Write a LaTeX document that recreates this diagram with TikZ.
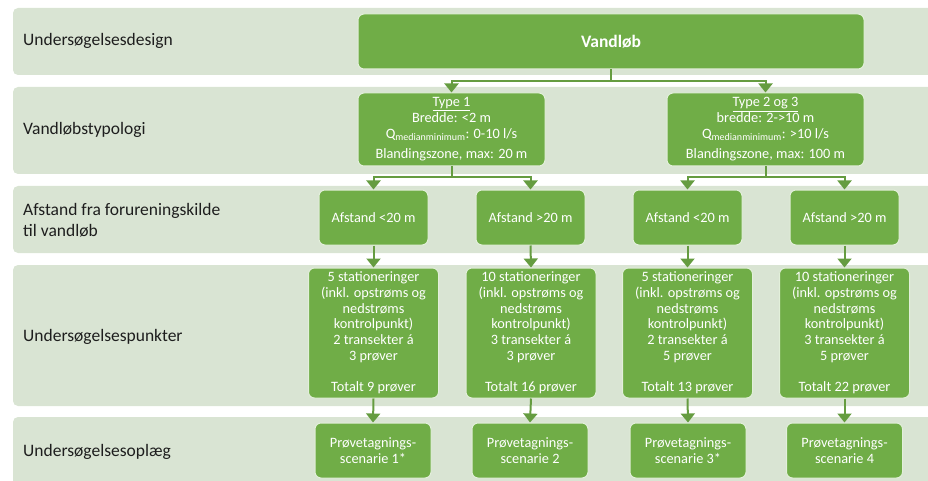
\documentclass[tikz,border=0pt]{standalone}
\usepackage{fontspec}
\setmainfont{Carlito}
\usetikzlibrary{arrows.meta, positioning}
\definecolor{boxgreen}{HTML}{70AD47}
\definecolor{bandgreen}{HTML}{D9E4D3}
\definecolor{labelgray}{HTML}{1E1E1E}

\begin{document}
\begin{tikzpicture}[x=1pt, y=-1pt,
    band/.style={fill=bandgreen, rounded corners=5pt},
    rowlabel/.style={anchor=west, text=labelgray, font=\fontsize{17.5}{21}\selectfont, align=left, inner sep=0pt},
    greenbox/.style={fill=boxgreen, draw=white!80!boxgreen, line width=1pt, rounded corners=6pt, text=white, align=center, inner sep=0pt, font=\fontsize{14.3}{15.7}\selectfont},
    distbox/.style={greenbox, minimum width=109pt, minimum height=55pt},
    pointbox/.style={greenbox, minimum width=130pt, minimum height=130pt},
    planbox/.style={greenbox, minimum width=116pt, minimum height=55pt},
    link/.style={draw=boxgreen!90!black, line width=2pt, -{Triangle[length=9pt,width=14pt]}}
]
    \useasboundingbox (0,0) rectangle (928,481);
    \clip (0,0) rectangle (928,481);

    % background bands
    \foreach \top/\bot in {8/75, 87/174, 186/253, 265/406, 417/495}
        \fill[band] (13,\top) rectangle (945,\bot);

    % row labels
    \node[rowlabel] (lbldesign) at (23,41) {Undersøgelsesdesign};
    \node[rowlabel] (lbltype) at (23,130) {Vandløbstypologi};
    \node[rowlabel] (lbldist) at (23,220) {Afstand fra forureningskilde\\til vandløb};
    \node[rowlabel] (lblpoints) at (23,337) {Undersøgelsespunkter};
    \node[rowlabel] (lblplan) at (23,452) {Undersøgelsesoplæg};

    % top and typology
    \node[greenbox, minimum width=506pt, minimum height=55pt, font=\bfseries\fontsize{17.5}{21}\selectfont] (vandlob) at (611,41.5) {Vandløb};
    \node[greenbox, minimum width=187pt, minimum height=73pt] (type1) at (451.5,129.5)
        {\underline{Type 1}\\Bredde: <2 m\\Q\textsubscript{medianminimum}: 0-10 l/s\\[5pt]Blandingszone, max: 20 m};
    \node[greenbox, minimum width=197pt, minimum height=73pt] (type2) at (765.5,129.5)
        {\underline{Type 2 og 3}\\bredde: 2->10 m\\Q\textsubscript{medianminimum}: >10 l/s\\[5pt]Blandingszone, max: 100 m};

    % distance
    \node[distbox] (dist1) at (373.5,217.5) {Afstand <20 m};
    \node[distbox] (dist2) at (530.5,217.5) {Afstand >20 m};
    \node[distbox] (dist3) at (687.5,217.5) {Afstand <20 m};
    \node[distbox] (dist4) at (844.5,217.5) {Afstand >20 m};

    % sampling points
    \node[pointbox] (points1) at (373.5,333) {5 stationeringer\\(inkl. opstrøms og\\nedstrøms\\kontrolpunkt)\\2 transekter á\\3 prøver\\[15.7pt]Totalt 9 prøver};
    \node[pointbox] (points2) at (531,333) {10 stationeringer\\(inkl. opstrøms og\\nedstrøms\\kontrolpunkt)\\3 transekter á\\3 prøver\\[15.7pt]Totalt 16 prøver};
    \node[pointbox] (points3) at (687.5,333) {5 stationeringer\\(inkl. opstrøms og\\nedstrøms\\kontrolpunkt)\\2 transekter á\\5 prøver\\[15.7pt]Totalt 13 prøver};
    \node[pointbox] (points4) at (844.5,333) {10 stationeringer\\(inkl. opstrøms og\\nedstrøms\\kontrolpunkt)\\3 transekter á\\5 prøver\\[15.7pt]Totalt 22 prøver};

    % scenarios
    \node[planbox] (plan1) at (373,450.5) {Prøvetagnings-\\scenarie 1*};
    \node[planbox] (plan2) at (530,450.5) {Prøvetagnings-\\scenarie 2};
    \node[planbox] (plan3) at (688,450.5) {Prøvetagnings-\\scenarie 3*};
    \node[planbox] (plan4) at (844.5,450.5) {Prøvetagnings-\\scenarie 4};

    % connectors
    \draw[link] (vandlob.south) -- ++(0,12) -| (type1.north);
    \draw[link] (vandlob.south) -- ++(0,12) -| (type2.north);
    \draw[link] (type1.south) -- ++(0,11) -| (dist1.north);
    \draw[link] (type1.south) -- ++(0,11) -| (dist2.north);
    \draw[link] (type2.south) -- ++(0,11) -| (dist3.north);
    \draw[link] (type2.south) -- ++(0,11) -| (dist4.north);
    \foreach \i in {1,...,4} {
        \draw[link] (dist\i.south) -- (points\i.north);
        \draw[link] (points\i.south) -- (plan\i.north);
    }
\end{tikzpicture}
\end{document}
